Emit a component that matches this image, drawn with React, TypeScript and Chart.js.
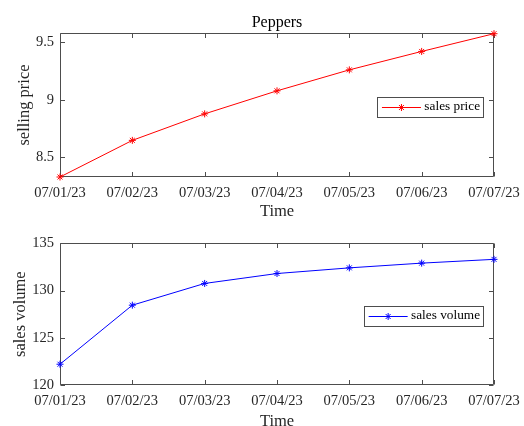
import React, { useEffect, useRef } from 'react';
import { Chart, registerables } from 'chart.js';

Chart.register(...registerables);

const dates = ['07/01/23', '07/02/23', '07/03/23', '07/04/23', '07/05/23', '07/06/23', '07/07/23'];
const priceValues = [8.33, 8.648, 8.878, 9.078, 9.26, 9.42, 9.574];
const volumeValues = [122.2, 128.45, 130.75, 131.8, 132.4, 132.9, 133.3];
const priceTicks = [8.5, 9, 9.5];
const volumeTicks = [120, 125, 130, 135];
const priceRange = [8.33, 9.58];
const volumeRange = [120, 135];

const FONT = "'Liberation Serif', 'Times New Roman', serif";
const AXIS_COLOR = '#4d4d4d';
const TEXT_COLOR = '#262626';

const framePlugin = {
  id: 'frame',
  beforeDatasetsDraw(chart: any) {
    const { ctx, chartArea: a, scales } = chart;
    const l = Math.round(a.left) + 0.5;
    const r = Math.round(a.right) - 0.5;
    const t = Math.round(a.top) + 0.5;
    const b = Math.round(a.bottom) - 0.5;
    const tl = 4.5;
    ctx.save();
    ctx.strokeStyle = AXIS_COLOR;
    ctx.lineWidth = 1;
    ctx.beginPath();
    ctx.rect(l, t, r - l, b - t);
    const xs = scales.x;
    for (let i = 0; i < xs.ticks.length; i++) {
      const px = Math.round(xs.getPixelForTick(i)) + 0.5;
      ctx.moveTo(px, b);
      ctx.lineTo(px, b - tl);
      ctx.moveTo(px, t);
      ctx.lineTo(px, t + tl);
    }
    const ys = scales.y;
    for (const tk of ys.ticks) {
      const py = Math.round(ys.getPixelForValue(tk.value)) + 0.5;
      ctx.moveTo(l, py);
      ctx.lineTo(l + tl, py);
      ctx.moveTo(r, py);
      ctx.lineTo(r - tl, py);
    }
    ctx.stroke();
    ctx.restore();
  },
};

const titlePlugin = {
  id: 'axesTitle',
  afterDraw(chart: any, _args: any, opts: any) {
    if (!opts || !opts.text) return;
    const { ctx, chartArea: a } = chart;
    ctx.save();
    ctx.font = `16px ${FONT}`;
    ctx.fillStyle = '#000000';
    ctx.textAlign = 'center';
    ctx.textBaseline = 'middle';
    ctx.fillText(opts.text, (a.left + a.right) / 2, a.top - 10.2);
    ctx.restore();
  },
};

const legendPlugin = {
  id: 'matlabLegend',
  afterDatasetsDraw(chart: any) {
    const { ctx, chartArea: a } = chart;
    const ds = chart.data.datasets[0];
    ctx.save();
    ctx.font = `13.3px ${FONT}`;
    const tw = ctx.measureText(ds.label).width;
    const w = 4.7 + 39 + 3.4 + tw + 3.3;
    const h = 19.5;
    const right = a.right - 10.6;
    const left = right - w;
    const cy = (a.top + a.bottom) / 2 + 1.5;
    const top = cy - h / 2;
    ctx.fillStyle = '#ffffff';
    ctx.fillRect(left, top, w, h);
    ctx.strokeStyle = AXIS_COLOR;
    ctx.lineWidth = 1;
    ctx.strokeRect(Math.round(left) + 0.5, Math.round(top) + 0.5, Math.round(w), Math.round(h));
    const x1 = left + 4.7;
    const x2 = x1 + 39;
    ctx.strokeStyle = ds.borderColor;
    ctx.beginPath();
    ctx.moveTo(x1, Math.round(cy) + 0.5);
    ctx.lineTo(x2, Math.round(cy) + 0.5);
    const mx = (x1 + x2) / 2;
    const my = Math.round(cy) + 0.5;
    const rr = 3.5;
    const d = rr * Math.SQRT1_2;
    ctx.moveTo(mx - rr, my); ctx.lineTo(mx + rr, my);
    ctx.moveTo(mx, my - rr); ctx.lineTo(mx, my + rr);
    ctx.moveTo(mx - d, my - d); ctx.lineTo(mx + d, my + d);
    ctx.moveTo(mx - d, my + d); ctx.lineTo(mx + d, my - d);
    ctx.stroke();
    ctx.fillStyle = '#000000';
    ctx.textBaseline = 'middle';
    ctx.textAlign = 'left';
    ctx.fillText(ds.label, x2 + 3.4, cy);
    ctx.restore();
  },
};

function makeConfig(opts: {
  label: string;
  values: number[];
  color: string;
  range: number[];
  ticks: number[];
  yTitle: string;
  title?: string;
  padTop: number;
  xHeight: number;
  yTitlePad: number;
  xTitlePadBottom: number;
}): any {
  return {
    type: 'line',
    data: {
      labels: dates,
      datasets: [
        {
          label: opts.label,
          data: opts.values,
          borderColor: opts.color,
          backgroundColor: opts.color,
          borderWidth: 1,
          pointStyle: 'star',
          pointRadius: 3.5,
          pointBorderColor: opts.color,
          pointBorderWidth: 1,
          tension: 0,
          fill: false,
          clip: false,
        },
      ],
    },
    options: {
      responsive: false,
      animation: false,
      devicePixelRatio: 1,
      layout: { padding: { left: 0, right: 30, top: opts.padTop, bottom: 0 } },
      plugins: {
        legend: { display: false },
        tooltip: { enabled: false },
        title: { display: false },
        axesTitle: { text: opts.title || '' },
      },
      scales: {
        x: {
          type: 'category',
          offset: false,
          grid: { display: false, drawTicks: false },
          border: { display: false },
          ticks: {
            color: TEXT_COLOR,
            font: { family: FONT, size: 14.5 },
            padding: 7,
            maxRotation: 0,
            autoSkip: false,
          },
          title: {
            display: true,
            text: 'Time',
            color: TEXT_COLOR,
            font: { family: FONT, size: 16.5 },
            padding: { top: 0, bottom: opts.xTitlePadBottom },
          },
          afterFit: (s: any) => {
            s.height = opts.xHeight;
            s.paddingLeft = 0;
            s.paddingRight = 0;
          },
        },
        y: {
          type: 'linear',
          min: opts.range[0],
          max: opts.range[1],
          grid: { display: false, drawTicks: false },
          border: { display: false },
          afterBuildTicks: (s: any) => {
            s.ticks = opts.ticks.map((v) => ({ value: v }));
          },
          ticks: {
            color: TEXT_COLOR,
            font: { family: FONT, size: 14.5 },
            padding: 6,
            callback: (v: any) => String(v),
          },
          title: {
            display: true,
            text: opts.yTitle,
            color: TEXT_COLOR,
            font: { family: FONT, size: 16.5 },
            padding: { top: opts.yTitlePad, bottom: 0 },
          },
          afterFit: (s: any) => {
            s.width = 60;
            s.paddingTop = 0;
            s.paddingBottom = 0;
          },
        },
      },
    },
    plugins: [framePlugin, legendPlugin, titlePlugin],
  };
}

export default function App() {
  const topRef = useRef<HTMLCanvasElement>(null);
  const bottomRef = useRef<HTMLCanvasElement>(null);

  useEffect(() => {
    const c1 = new Chart(
      topRef.current as HTMLCanvasElement,
      makeConfig({
        label: 'sales price',
        values: priceValues,
        color: '#ff0000',
        range: priceRange,
        ticks: priceTicks,
        yTitle: 'selling price',
        title: 'Peppers',
        padTop: 33,
        xHeight: 45,
        yTitlePad: 14.5,
        xTitlePadBottom: 0,
      })
    );
    const c2 = new Chart(
      bottomRef.current as HTMLCanvasElement,
      makeConfig({
        label: 'sales volume',
        values: volumeValues,
        color: '#0000ff',
        range: volumeRange,
        ticks: volumeTicks,
        yTitle: 'sales volume',
        padTop: 21.3,
        xHeight: 41,
        yTitlePad: 11,
        xTitlePadBottom: -5.5,
      })
    );
    return () => {
      c1.destroy();
      c2.destroy();
    };
  }, []);

  return (
    <div
      style={{
        position: 'absolute',
        left: 0,
        top: 0,
        width: 524,
        height: 426,
        overflow: 'hidden',
        background: '#ffffff',
      }}
    >
      <canvas ref={topRef} width={524} height={222} style={{ position: 'absolute', left: 0, top: 0 }} />
      <canvas ref={bottomRef} width={524} height={204} style={{ position: 'absolute', left: 0, top: 222 }} />
    </div>
  );
}
